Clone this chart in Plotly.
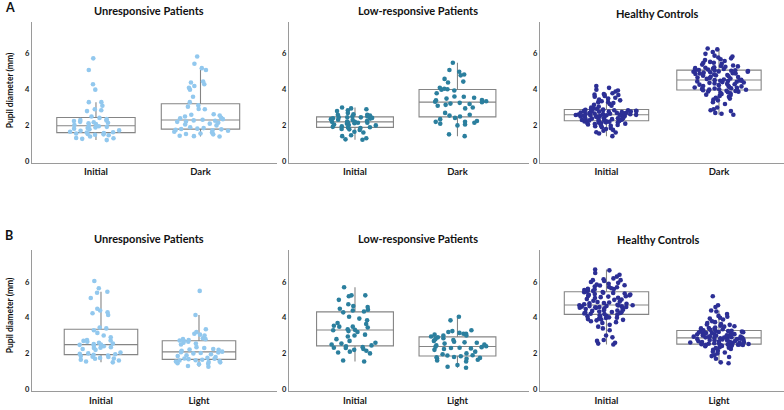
import plotly.graph_objects as go

W, H = 784, 410

# ---------------- data (pupil diameter, mm) ----------------
titles = ["Unresponsive Patients", "Low-responsive Patients", "Healthy Controls"]
cats_a = ["Initial", "Dark"]
cats_b = ["Initial", "Light"]
ytick_vals = [0, 2, 4, 6]

unresp_a_initial = [1.18, 1.25, 1.28, 1.3, 1.38, 1.45, 1.48, 1.5, 1.52, 1.55, 1.58,
                    1.6, 1.62, 1.65, 1.7, 1.72, 1.78, 1.82, 1.85, 1.88, 1.92, 1.95,
                    1.98, 2.02, 2.08, 2.12, 2.15, 2.18, 2.2, 2.25, 2.28, 2.3, 2.35,
                    2.42, 2.5, 2.8, 2.85, 2.9, 3.1, 3.3, 3.3, 4.0, 4.3, 5.1, 5.75]
unresp_a_dark = [1.38, 1.4, 1.42, 1.5, 1.52, 1.55, 1.6, 1.65, 1.7, 1.72, 1.75, 1.78,
                 1.8, 1.82, 1.85, 1.9, 2.0, 2.05, 2.1, 2.15, 2.2, 2.22, 2.26, 2.28,
                 2.32, 2.35, 2.4, 2.42, 2.5, 2.55, 2.6, 2.62, 2.9, 2.92, 3.05, 3.12,
                 3.3, 3.6, 4.0, 4.1, 4.2, 4.3, 4.4, 4.45, 5.1, 5.2, 5.45, 5.85]
lowresp_a_initial = [1.2, 1.22, 1.28, 1.4, 1.45, 1.6, 1.65, 1.75, 1.78, 1.8, 1.85, 1.88,
                     1.9, 1.92, 1.95, 2.0, 2.02, 2.05, 2.1, 2.12, 2.15, 2.15, 2.18, 2.2,
                     2.2, 2.22, 2.25, 2.3, 2.32, 2.35, 2.38, 2.4, 2.42, 2.45, 2.45, 2.45,
                     2.5, 2.5, 2.55, 2.6, 2.6, 2.62, 2.7, 2.8, 2.85, 2.9, 2.95, 3.0]
lowresp_a_dark = [1.4, 1.5, 2.0, 2.05, 2.1, 2.15, 2.2, 2.2, 2.25, 2.35, 2.42,
                  2.5, 2.55, 2.6, 2.7, 2.95, 3.0, 3.1, 3.15, 3.2, 3.22, 3.26,
                  3.3, 3.32, 3.35, 3.4, 3.42, 3.5, 3.55, 3.6, 3.62, 3.8, 3.95,
                  4.0, 4.02, 4.05, 4.1, 4.4, 4.45, 4.6, 4.8, 4.85, 5.0, 5.1, 5.5]
healthy_a_initial = [1.4, 1.55, 1.6, 1.62, 1.7, 1.75, 1.8, 1.85, 1.9, 1.95, 1.98, 2.0, 2.02,
                     2.05, 2.08, 2.1, 2.12, 2.14, 2.15, 2.17, 2.18, 2.2, 2.2, 2.22, 2.23, 2.24, 2.25,
                     2.27, 2.28, 2.3, 2.3, 2.32, 2.33, 2.35, 2.36, 2.38, 2.4, 2.4, 2.42, 2.43,
                     2.45, 2.46, 2.48, 2.5, 2.5, 2.52, 2.53, 2.54, 2.55, 2.56, 2.57, 2.58, 2.58, 2.59,
                     2.6, 2.61, 2.62, 2.63, 2.64, 2.65, 2.66, 2.68, 2.69, 2.7, 2.71, 2.72, 2.73,
                     2.75, 2.76, 2.77, 2.78, 2.79, 2.8, 2.81, 2.82, 2.83, 2.84, 2.85, 2.86, 2.87, 2.88,
                     2.9, 2.92, 2.95, 3.0, 3.05, 3.1, 3.15, 3.2, 3.25, 3.3, 3.3, 3.35, 3.4,
                     3.45, 3.5, 3.55, 3.6, 3.65, 3.7, 3.72, 3.75, 3.8, 3.9, 3.95, 4.0, 4.1, 4.2]
healthy_a_dark = [2.6, 2.65, 2.7, 2.8, 2.85, 2.9, 3.0, 3.2, 3.3, 3.4, 3.45, 3.5, 3.55, 3.6,
                  3.65, 3.7, 3.72, 3.75, 3.8, 3.82, 3.85, 3.88, 3.9, 3.92, 3.94, 3.96, 3.97,
                  3.99, 4.0, 4.02, 4.04, 4.06, 4.08, 4.1, 4.12, 4.15, 4.18, 4.2, 4.22, 4.25,
                  4.28, 4.3, 4.32, 4.35, 4.38, 4.4, 4.42, 4.44, 4.46, 4.48, 4.5, 4.5, 4.52, 4.53,
                  4.55, 4.57, 4.6, 4.62, 4.65, 4.68, 4.7, 4.72, 4.75, 4.78, 4.8, 4.82, 4.85,
                  4.87, 4.9, 4.9, 4.92, 4.95, 4.97, 5.0, 5.0, 5.02, 5.04, 5.05, 5.06, 5.07, 5.08,
                  5.1, 5.12, 5.15, 5.18, 5.2, 5.22, 5.25, 5.28, 5.3, 5.32, 5.35, 5.4, 5.45,
                  5.5, 5.5, 5.55, 5.6, 5.65, 5.7, 5.75, 5.8, 5.85, 5.9, 6.0, 6.1, 6.25, 6.3]

unresp_b_initial = [1.5, 1.55, 1.6, 1.65, 1.7, 1.72, 1.75, 1.8, 1.82, 1.85, 1.88, 1.92,
                    1.95, 1.98, 2.0, 2.05, 2.2, 2.25, 2.3, 2.32, 2.35, 2.4, 2.45, 2.48,
                    2.5, 2.52, 2.55, 2.6, 2.65, 2.7, 2.72, 2.75, 2.9, 3.0, 3.15, 3.3,
                    3.4, 3.45, 4.15, 4.25, 4.3, 4.4, 4.5, 5.1, 5.4, 5.45, 5.65, 6.05]
unresp_b_light = [1.25, 1.3, 1.4, 1.42, 1.45, 1.5, 1.52, 1.55, 1.58, 1.6, 1.62, 1.65,
                  1.68, 1.7, 1.72, 1.75, 1.8, 1.85, 1.9, 1.95, 2.0, 2.02, 2.05, 2.07,
                  2.1, 2.15, 2.2, 2.22, 2.25, 2.3, 2.35, 2.5, 2.55, 2.6, 2.65, 2.7,
                  2.72, 2.75, 2.8, 2.8, 2.85, 3.0, 3.05, 3.1, 3.2, 3.35, 4.15, 5.5]
lowresp_b_initial = [1.55, 1.6, 2.0, 2.05, 2.1, 2.15, 2.2, 2.25, 2.3, 2.32, 2.35, 2.4,
                     2.45, 2.5, 2.55, 2.6, 2.7, 2.8, 2.95, 3.0, 3.05, 3.2, 3.25, 3.3,
                     3.32, 3.35, 3.45, 3.5, 3.5, 3.55, 3.65, 3.7, 3.85, 3.95, 4.05, 4.3,
                     4.35, 4.4, 4.45, 4.5, 4.6, 4.65, 4.75, 5.0, 5.2, 5.25, 5.25, 5.7]
lowresp_b_light = [1.2, 1.25, 1.35, 1.55, 1.6, 1.65, 1.7, 1.72, 1.75, 1.78, 1.8, 1.84,
                   1.88, 1.9, 1.95, 2.0, 2.1, 2.2, 2.25, 2.28, 2.3, 2.32, 2.35, 2.37,
                   2.4, 2.45, 2.5, 2.55, 2.6, 2.62, 2.65, 2.7, 2.75, 2.8, 2.85, 2.9,
                   2.95, 3.0, 3.0, 3.05, 3.1, 3.1, 3.15, 3.2, 3.25, 3.3, 3.85, 4.05]
healthy_b_initial = [2.5, 2.55, 2.6, 2.7, 2.75, 2.9, 3.0, 3.3, 3.4, 3.5, 3.6, 3.7, 3.75, 3.8,
                     3.85, 3.88, 3.9, 3.92, 3.95, 3.98, 4.0, 4.02, 4.05, 4.08, 4.1, 4.14, 4.17,
                     4.2, 4.22, 4.24, 4.26, 4.28, 4.3, 4.32, 4.35, 4.38, 4.4, 4.42, 4.45, 4.48,
                     4.5, 4.52, 4.55, 4.56, 4.58, 4.6, 4.6, 4.62, 4.64, 4.65, 4.66, 4.68, 4.69, 4.7,
                     4.72, 4.75, 4.78, 4.8, 4.82, 4.85, 4.88, 4.9, 4.95, 5.0, 5.02, 5.05, 5.1,
                     5.12, 5.15, 5.18, 5.2, 5.22, 5.25, 5.28, 5.3, 5.32, 5.35, 5.38, 5.4, 5.42, 5.44,
                     5.46, 5.5, 5.52, 5.55, 5.58, 5.6, 5.62, 5.65, 5.7, 5.72, 5.75, 5.8, 5.82,
                     5.85, 5.9, 5.95, 6.0, 6.05, 6.1, 6.1, 6.15, 6.2, 6.3, 6.4, 6.5, 6.65, 6.7]
healthy_b_light = [1.45, 1.5, 1.7, 1.8, 1.85, 1.9, 2.0, 2.05, 2.1, 2.15, 2.2, 2.25, 2.3, 2.32,
                   2.35, 2.38, 2.4, 2.42, 2.44, 2.45, 2.46, 2.47, 2.48, 2.49, 2.5, 2.5, 2.51,
                   2.53, 2.54, 2.55, 2.56, 2.57, 2.58, 2.6, 2.61, 2.62, 2.63, 2.64, 2.65, 2.66,
                   2.68, 2.7, 2.72, 2.74, 2.75, 2.77, 2.78, 2.8, 2.81, 2.82, 2.83, 2.84, 2.85, 2.86,
                   2.88, 2.89, 2.9, 2.91, 2.92, 2.94, 2.95, 2.96, 2.98, 3.0, 3.0, 3.02, 3.04,
                   3.06, 3.08, 3.1, 3.12, 3.14, 3.15, 3.17, 3.19, 3.2, 3.22, 3.24, 3.25, 3.26, 3.27,
                   3.3, 3.32, 3.35, 3.38, 3.4, 3.42, 3.45, 3.5, 3.52, 3.55, 3.6, 3.62, 3.65,
                   3.7, 3.75, 3.8, 3.9, 3.95, 4.0, 4.05, 4.1, 4.2, 4.35, 4.4, 4.6, 4.7, 5.2]

# ---------------- styling ----------------
colors = ["#92C8EE", "#2B7F9E", "#2C2F95"]
FONT = "Lato"
box_line = "#858585"
axis_line = "#9a9a9a"

panels = [
    (0, 0, cats_a, unresp_a_initial, unresp_a_dark),
    (0, 1, cats_a, lowresp_a_initial, lowresp_a_dark),
    (0, 2, cats_a, healthy_a_initial, healthy_a_dark),
    (1, 0, cats_b, unresp_b_initial, unresp_b_light),
    (1, 1, cats_b, lowresp_b_initial, lowresp_b_light),
    (1, 2, cats_b, healthy_b_initial, healthy_b_light),
]

col_px = [(32, 277), (289, 529), (540, 784)]
row_px = [(22, 164), (252, 394)]          # (top, bottom)
xranges = {
    (0, 0): [-0.612, 1.732],
    (1, 0): [-0.704, 1.796],
    (0, 1): [-0.644, 1.698], (1, 1): [-0.644, 1.698],
    (0, 2): [-0.591, 1.578], (1, 2): [-0.591, 1.578],
}
yranges = [[-0.09, 7.79], [-0.11, 7.78]]

fig = go.Figure()
layout = {}
for i, (r, c, cats, v1, v2) in enumerate(panels):
    n = i + 1
    xa = "x" if n == 1 else f"x{n}"
    ya = "y" if n == 1 else f"y{n}"
    fig.add_trace(go.Box(
        x=[cats[0]] * len(v1) + [cats[1]] * len(v2),
        y=v1 + v2,
        xaxis=xa, yaxis=ya,
        boxpoints="all", jitter=0.75, pointpos=0,
        width=0.75, whiskerwidth=0,
        fillcolor="rgba(0,0,0,0)",
        line=dict(color=box_line, width=1.1),
        marker=dict(color=colors[c], size=4.6, line=dict(width=0)),
        showlegend=False, hoverinfo="y",
    ))
    x0, x1 = col_px[c]
    t, b = row_px[r]
    layout["xaxis" if n == 1 else f"xaxis{n}"] = dict(
        domain=[x0 / W, x1 / W], anchor=ya, type="category",
        categoryorder="array", categoryarray=cats, range=xranges[(r, c)],
        showline=True, linecolor=axis_line, linewidth=1.3, ticks="",
        showgrid=False, zeroline=False,
        tickfont=dict(family=FONT, size=9.5, color="#1a1a1a", weight="bold"),
    )
    layout["yaxis" if n == 1 else f"yaxis{n}"] = dict(
        domain=[(H - b) / H, (H - t) / H], anchor=xa, range=yranges[r],
        tickvals=ytick_vals, showline=True, linecolor=axis_line, linewidth=1.3,
        ticks="", showgrid=False, zeroline=False, ticklabelstandoff=0,
        tickfont=dict(family=FONT, size=7.5, color="#1a1a1a", weight="bold"),
    )

annotations = []
title_pos = [[(149, 11), (417.5, 11), (657, 14)], [(149, 240.5), (417.5, 240.5), (658, 241.5)]]
for r in range(2):
    for c in range(3):
        px, py = title_pos[r][c]
        annotations.append(dict(
            text=titles[c], x=px / W, y=(H - py) / H, xref="paper", yref="paper",
            xanchor="center", yanchor="middle", showarrow=False,
            font=dict(family=FONT, size=11, color="#111", weight="bold")))
for lab, py in [("A", 8), ("B", 237)]:
    annotations.append(dict(
        text=lab, x=3 / W, y=(H - py) / H, xref="paper", yref="paper",
        xanchor="left", yanchor="middle", showarrow=False,
        font=dict(family=FONT, size=12.5, color="#111", weight="bold")))
for py in [91, 317.5]:
    annotations.append(dict(
        text="Pupil diameter (mm)", x=10 / W, y=(H - py) / H, xref="paper", yref="paper",
        xanchor="center", yanchor="middle", textangle=-90, showarrow=False,
        font=dict(family=FONT, size=8.5, color="#111", weight="bold")))

fig.update_layout(
    width=W, height=H, margin=dict(l=0, r=0, t=0, b=0),
    paper_bgcolor="white", plot_bgcolor="white",
    annotations=annotations, **layout,
)
fig.write_html("out.html", config={"displayModeBar": False},
               post_script="document.body.style.margin='0';document.body.style.overflow='hidden';")
